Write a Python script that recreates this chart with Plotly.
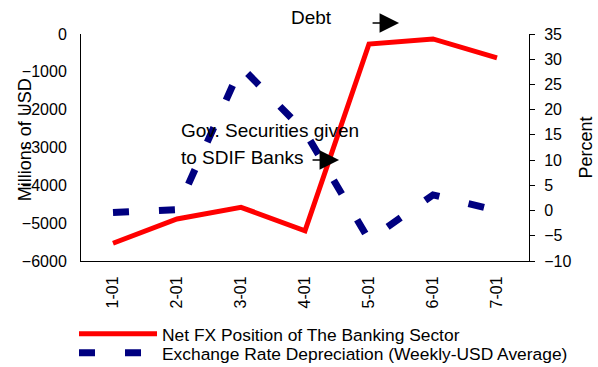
import plotly.graph_objects as go

# Monthly observations (2001)
months = ["1-01", "2-01", "3-01", "4-01", "5-01", "6-01", "7-01"]
net_fx_position = [-5530, -4890, -4580, -5200, -265, -130, -630]      # millions of USD
fx_depreciation = [-0.4, 0.2, 28.5, 15.6, -5.8, 3.1, 0.0]              # percent

left_ticks = [0, -1000, -2000, -3000, -4000, -5000, -6000]
right_ticks = [35, 30, 25, 20, 15, 10, 5, 0, -5, -10]

FONT = "Arial, Liberation Sans, sans-serif"

fig = go.Figure()

fig.add_trace(go.Scatter(
    x=months, y=net_fx_position, mode="lines",
    name="Net FX Position of The Banking Sector",
    line=dict(color="#ff0000", width=5),
    yaxis="y", legend="legend",
))
fig.add_trace(go.Scatter(
    x=months, y=fx_depreciation, mode="lines",
    name="Exchange Rate Depreciation (Weekly-USD Average)",
    line=dict(color="#000080", width=7, dash="16px,30px"),
    yaxis="y2", legend="legend2",
))

axis_common = dict(showgrid=False, zeroline=False, linecolor="#000000", linewidth=1,
                   automargin=False,
                   tickfont=dict(family=FONT, size=16, color="#000000"))

legend_common = dict(xanchor="left", yanchor="middle", font=dict(family=FONT, size=17.4),
                     itemwidth=78, bgcolor="rgba(0,0,0,0)")

fig.update_layout(
    width=598, height=367,
    margin=dict(l=81, r=69, t=34, b=106, autoexpand=False),
    paper_bgcolor="#ffffff", plot_bgcolor="#ffffff",
    font=dict(family=FONT, color="#000000"),
    xaxis=dict(type="category", range=[-0.5, 6.5], showline=True, ticks="",
               tickangle=-90, ticklabelstandoff=8, **axis_common),
    yaxis=dict(range=[-6000, 0], tickvals=left_ticks, showline=True, ticks="",
               ticklabelstandoff=10, **axis_common),
    yaxis2=dict(range=[-10, 35], tickvals=right_ticks, overlaying="y", side="right",
                anchor="x", showline=True, ticks="outside", ticklen=5, tickcolor="#000000",
                ticklabelstandoff=6,
                title=dict(text="Percent", font=dict(size=18), standoff=8),
                **axis_common),
    yaxis3=dict(range=[-10, 35], tickvals=right_ticks, overlaying="y", side="right",
                anchor="x", showline=False, showgrid=False, zeroline=False,
                ticks="inside", ticklen=5, tickcolor="#000000", showticklabels=False),
    showlegend=True,
    legend=dict(x=-0.0156, y=-0.3216, **legend_common),
    legend2=dict(x=-0.0156, y=-0.405, **legend_common),
)

# left axis title
fig.add_annotation(text="Millions of USD", textangle=-90, x=-0.1250, y=0.5322,
                   xref="paper", yref="paper", xanchor="center", yanchor="middle",
                   showarrow=False, font=dict(family=FONT, size=18, color="#000000"))

text_font = dict(family=FONT, size=19, color="#000000")
notes = [
    ("Gov. Securities given", 0.2188, 0.5727),
    ("to SDIF Banks", 0.2188, 0.458),
    ("Debt", 0.4643, 1.0705),
]
for txt, px, py in notes:
    fig.add_annotation(text=txt, x=px, y=py, xref="paper", yref="paper",
                       xanchor="left", yanchor="middle", showarrow=False, font=text_font)

# pointer arrows next to the event notes
for hx, hy, ax in [(0.576, 0.445, -28), (0.71, 1.048, -28)]:
    fig.add_annotation(text="", x=hx, y=hy, xref="paper", yref="paper",
                       ax=ax, ay=0, axref="pixel", ayref="pixel",
                       showarrow=True, arrowhead=2, arrowwidth=1.5, arrowsize=2.6,
                       arrowcolor="#000000", standoff=0, startstandoff=0)

fig.write_html("out.html")
